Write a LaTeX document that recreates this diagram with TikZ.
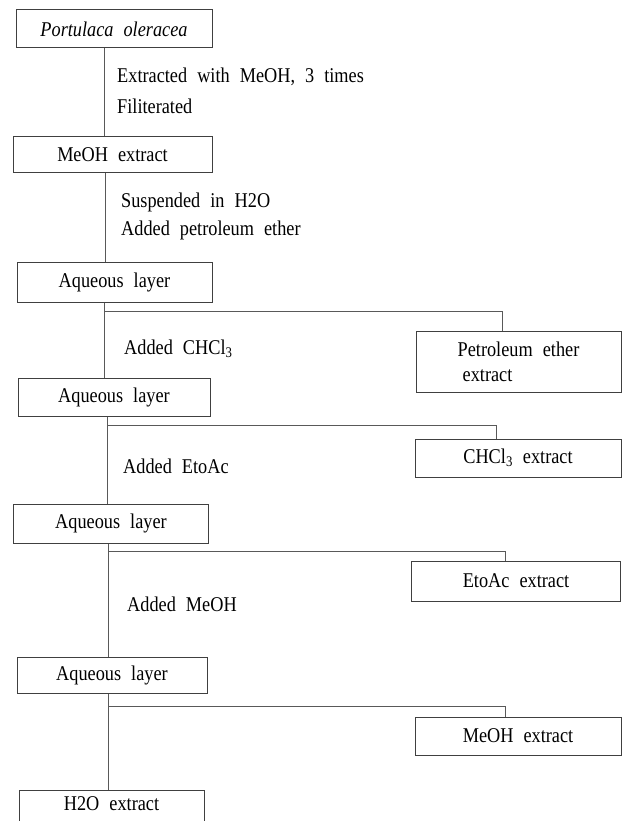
\documentclass[tikz,border=0pt]{standalone}
\usepackage{fontspec}
\setmainfont{Liberation Serif}[FakeStretch=0.87, WordSpace=2.2]
\begin{document}
\begin{tikzpicture}[x=1pt,y=-1pt,
  box/.style={draw=black!75, line width=1pt, inner sep=0pt, align=center,
    font=\fontsize{21}{25}\selectfont},
  lbl/.style={inner sep=0pt, anchor=base west, font=\fontsize{21}{25}\selectfont},
  conn/.style={draw=black!65, line width=1pt}]
\clip (0,0) rectangle (622,821);
% main column boxes
\node[box, minimum width=196pt, minimum height=38pt] (b1) at (114,29) {\itshape Portulaca oleracea};
\node[box, minimum width=199pt, minimum height=36pt] (b2) at (112.5,155) {MeOH extract};
\node[box, minimum width=195pt, minimum height=40pt] (b3) at (114.5,282) {Aqueous layer};
\node[box, minimum width=192pt, minimum height=38pt] (b4) at (114,397) {Aqueous layer};
\node[box, minimum width=195pt, minimum height=39pt] (b5) at (111,523.5) {Aqueous layer};
\node[box, minimum width=190pt, minimum height=36pt] (b6) at (112,675) {Aqueous layer};
\node[box, minimum width=185pt, minimum height=40pt, text depth=12pt] (b7) at (111.5,810) {H2O extract};
% side boxes
\node[box, minimum width=205pt, minimum height=61pt, align=left] (pe) at (518.5,361.5) {Petroleum ether\\\hspace{5pt}extract};
\node[box, minimum width=206pt, minimum height=38pt] (ch) at (518,458) {CHCl\textsubscript{3} extract};
\node[box, minimum width=209pt, minimum height=40pt] (ea) at (516,581) {EtoAc extract};
\node[box, minimum width=206pt, minimum height=38pt] (me) at (518,736) {MeOH extract};
% step labels
\node[lbl] (t1) at (117,83) {Extracted with MeOH, 3 times};
\node[lbl] (t2) at (117,114) {Filiterated};
\node[lbl] (t3) at (121,207) {Suspended in H2O};
\node[lbl] (t4) at (121,235) {Added petroleum ether};
\node[lbl] (t5) at (124,354) {Added CHCl\textsubscript{3}};
\node[lbl] (t6) at (123,473) {Added EtoAc};
\node[lbl] (t7) at (127,611) {Added MeOH};
% column x positions
\coordinate (x1) at (104,0);
\coordinate (x2) at (105,0);
\coordinate (x3) at (104,0);
\coordinate (x4) at (107,0);
\coordinate (x5) at (108,0);
\coordinate (x6) at (108,0);
% main vertical connectors
\draw[conn] (b1.south -| x1) -- (b2.north -| x1);
\draw[conn] (b2.south -| x2) -- (b3.north -| x2);
\draw[conn] (b3.south -| x3) -- (b4.north -| x3);
\draw[conn] (b4.south -| x4) -- (b5.north -| x4);
\draw[conn] (b5.south -| x5) -- (b6.north -| x5);
\draw[conn] (b6.south -| x6) -- (b7.north -| x6);
% branches
\coordinate (j3) at (104,311); \coordinate (d3) at (502,311);
\coordinate (j4) at (107,425); \coordinate (d4) at (496,425);
\coordinate (j5) at (108,551); \coordinate (d5) at (505,551);
\coordinate (j6) at (108,706); \coordinate (d6) at (505,706);
\draw[conn] (j3) -- (d3) -- (d3 |- pe.north);
\draw[conn] (j4) -- (d4) -- (d4 |- ch.north);
\draw[conn] (j5) -- (d5) -- (d5 |- ea.north);
\draw[conn] (j6) -- (d6) -- (d6 |- me.north);
\end{tikzpicture}
\end{document}
